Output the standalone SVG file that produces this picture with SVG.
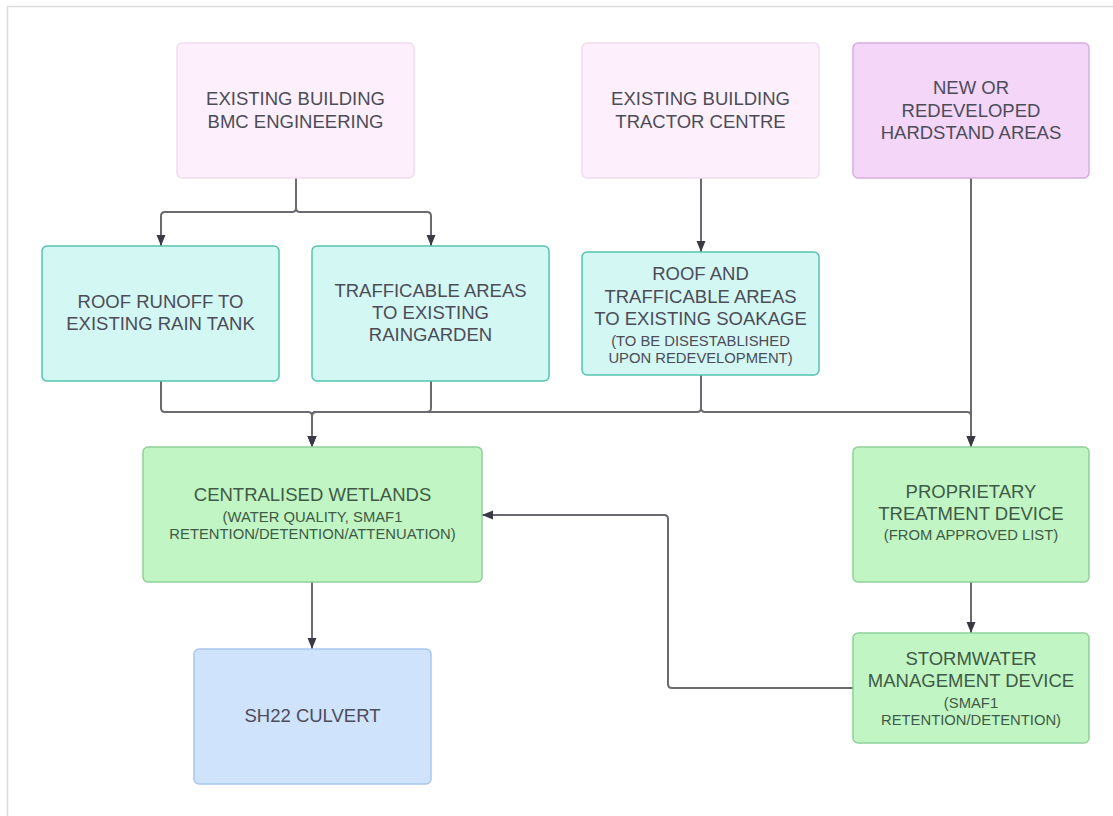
<svg xmlns="http://www.w3.org/2000/svg" width="1113" height="816" viewBox="0 0 1113 816">
<defs>
<marker id="arr" markerUnits="userSpaceOnUse" markerWidth="12" markerHeight="12" viewBox="0 0 12 12" refX="11" refY="6" orient="auto">
<path d="M0,1.5 L11,6 L0,10.5 Z" fill="#3a3a44"/>
</marker>
<style>
.box{stroke-width:1.5}
.pk{fill:#fdf0fc;stroke:#f1dcee}
.pk2{fill:#f4d6f8;stroke:#d6aede}
.cy{fill:#d3f7f3;stroke:#55c3ae}
.gr{fill:#c1f5c3;stroke:#8fd198}
.bl{fill:#cfe3fc;stroke:#a9c6ec}
text{font-family:"Liberation Sans",Arial,sans-serif;text-anchor:middle;fill:#4c4c58}
.t{font-size:18.5px}
.s{font-size:14.8px}
.g text{fill:#3f5a46}
.ln{fill:none;stroke:#6a6a70;stroke-width:2}
</style>
</defs>
<rect width="1113" height="816" fill="#ffffff"/>
<path d="M7.5 816 V6.5 H1113" fill="none" stroke="#dcdcdc" stroke-width="1.5"/>

<g id="connectors">
<path class="ln" d="M296 178 V208 Q296 212 292 212 H165 Q161 212 161 216 V246" marker-end="url(#arr)"/>
<path class="ln" d="M296 178 V208 Q296 212 300 212 H427 Q431 212 431 216 V246" marker-end="url(#arr)"/>
<path class="ln" d="M161 381 V408 Q161 412 165 412 H308 Q312 412 312 416 V447" marker-end="url(#arr)"/>
<path class="ln" d="M431 381 V408 Q431 412 427 412 H316 Q312 412 312 416 V447" marker-end="url(#arr)"/>
<path class="ln" d="M701 178 V252" marker-end="url(#arr)"/>
<path class="ln" d="M701 375 V408 Q701 412 697 412 H316 Q312 412 312 416 V447" marker-end="url(#arr)"/>
<path class="ln" d="M701 375 V408 Q701 412 705 412 H967 Q971 412 971 416 V447" marker-end="url(#arr)"/>
<path class="ln" d="M971 178 V447" marker-end="url(#arr)"/>
<path class="ln" d="M312 582 V649" marker-end="url(#arr)"/>
<path class="ln" d="M971 582 V633" marker-end="url(#arr)"/>
<path class="ln" d="M853 688 H672 Q668 688 668 684 V519 Q668 515 664 515 H482" marker-end="url(#arr)"/>
</g>

<g id="bmc">
<rect class="box pk" x="177" y="43" width="237" height="135" rx="5"/>
<text class="t" x="295.5" y="104.5">EXISTING BUILDING</text>
<text class="t" x="295.5" y="127.5">BMC ENGINEERING</text>
</g>
<g id="tractor">
<rect class="box pk" x="582" y="43" width="237" height="135" rx="5"/>
<text class="t" x="700.5" y="104.5">EXISTING BUILDING</text>
<text class="t" x="700.5" y="127.5">TRACTOR CENTRE</text>
</g>
<g id="hardstand">
<rect class="box pk2" x="853" y="43" width="236" height="135" rx="5"/>
<text class="t" x="971" y="94">NEW OR</text>
<text class="t" x="971" y="116.5">REDEVELOPED</text>
<text class="t" x="971" y="139">HARDSTAND AREAS</text>
</g>
<g id="raintank">
<rect class="box cy" x="42" y="246" width="237" height="135" rx="5"/>
<text class="t" x="160.5" y="307.5">ROOF RUNOFF TO</text>
<text class="t" x="160.5" y="329.5">EXISTING RAIN TANK</text>
</g>
<g id="raingarden">
<rect class="box cy" x="312" y="246" width="237" height="135" rx="5"/>
<text class="t" x="430.5" y="296.5">TRAFFICABLE AREAS</text>
<text class="t" x="430.5" y="318.5">TO EXISTING</text>
<text class="t" x="430.5" y="340.5">RAINGARDEN</text>
</g>
<g id="soakage">
<rect class="box cy" x="582" y="252" width="237" height="123" rx="5"/>
<text class="t" x="700.5" y="279.5">ROOF AND</text>
<text class="t" x="700.5" y="302.5">TRAFFICABLE AREAS</text>
<text class="t" x="700.5" y="324.5">TO EXISTING SOAKAGE</text>
<text class="s" x="700.5" y="345.5">(TO BE DISESTABLISHED</text>
<text class="s" x="700.5" y="362.5">UPON REDEVELOPMENT)</text>
</g>
<g id="wetlands" class="g">
<rect class="box gr" x="143" y="447" width="339" height="135" rx="5"/>
<text class="t" x="312.5" y="500.5">CENTRALISED WETLANDS</text>
<text class="s" x="312.5" y="521.5">(WATER QUALITY, SMAF1</text>
<text class="s" x="312.5" y="538.5">RETENTION/DETENTION/ATTENUATION)</text>
</g>
<g id="proprietary" class="g">
<rect class="box gr" x="853" y="447" width="236" height="135" rx="5"/>
<text class="t" x="971" y="497.5">PROPRIETARY</text>
<text class="t" x="971" y="519.5">TREATMENT DEVICE</text>
<text class="s" x="971" y="539.5">(FROM APPROVED LIST)</text>
</g>
<g id="stormwater" class="g">
<rect class="box gr" x="853" y="633" width="236" height="110" rx="5"/>
<text class="t" x="971" y="664.5">STORMWATER</text>
<text class="t" x="971" y="686.5">MANAGEMENT DEVICE</text>
<text class="s" x="971" y="707.5">(SMAF1</text>
<text class="s" x="971" y="724.5">RETENTION/DETENTION)</text>
</g>
<g id="culvert">
<rect class="box bl" x="194" y="649" width="237" height="135" rx="5"/>
<text class="t" x="312.5" y="721.5">SH22 CULVERT</text>
</g>
</svg>
